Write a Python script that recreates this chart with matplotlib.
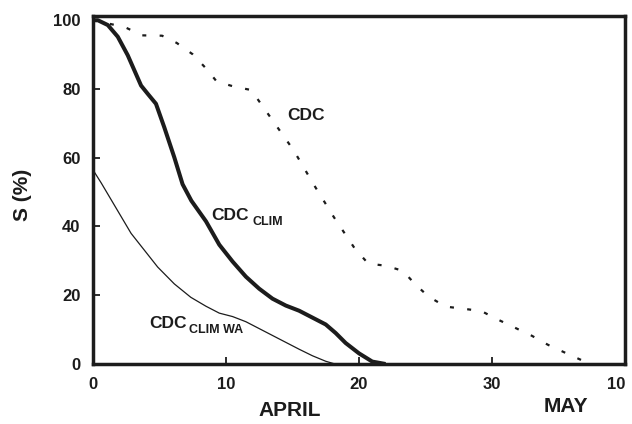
import matplotlib
matplotlib.use("Agg")
import matplotlib.pyplot as plt

plt.rcParams['font.family'] = ['Liberation Sans', 'DejaVu Sans']
plt.rcParams['font.weight'] = 'bold'

# days since 1 April, S in %
cdc_days = [0, 2.4, 3.7, 5.2, 6.3, 7.5, 8.5, 9.3, 10.6, 11.9, 12.7, 13.5, 15.1,
            16.6, 18.1, 19.7, 20.7, 22.0, 23.3, 24.2, 25.2, 26.5, 27.8, 29.2,
            30.4, 31.7, 33.0, 34.2, 35.6, 36.8, 37.2]
cdc_s = [100, 98, 95.6, 95.5, 93.4, 90.1, 86, 82.2, 80.7, 79.7, 75.3, 70.9, 62.1,
         52.2, 42.8, 33.5, 29.2, 28.6, 27.1, 23.3, 19.7, 16.7, 16.1, 15.4,
         13, 10.6, 8.2, 5.6, 3.1, 1.0, 0]

clim_days = [0, 0.37, 1.12, 1.87, 2.62, 3.12, 3.62, 4.12, 4.74, 5.37, 6.12, 6.74,
             7.4, 8.5, 9.5, 10.5, 11.5, 12.5, 13.5, 14.5, 15.5, 16.5, 17.5,
             18.25, 19, 20, 21, 22]
clim_s = [100, 100, 98.6, 95.2, 89.8, 85.4, 81, 78.6, 75.7, 68.8, 60.1, 52.3,
          47.5, 41.5, 34.7, 29.8, 25.4, 21.9, 19, 17, 15.5, 13.5, 11.5,
          9, 6.1, 3.1, 0.7, 0]

wa_days = [0, 0.62, 1.37, 2.12, 2.87, 3.87, 4.87, 6.12, 7.36, 8.5, 9.5, 10.5,
           11.5, 12.5, 13.5, 14.5, 15.5, 16.5, 17.5, 18.2]
wa_s = [56.5, 52.7, 47.8, 42.9, 38, 33.1, 28.2, 23.3, 19.4, 16.8, 14.8, 13.8,
        12.3, 10.3, 8.3, 6.3, 4.3, 2.4, 0.8, 0]

xticks = [0, 10, 20, 30, 40]
xticklabels = ['0', '10', '20', '30', '10']
yticks = [0, 20, 40, 60, 80, 100]

fig = plt.figure(figsize=(6.32, 4.24), dpi=100)
ax = fig.add_axes([0.147, 0.1415, 0.842, 0.8205])

ink = '#1c1c1c'
ax.plot(cdc_days, cdc_s, color=ink, lw=1.6, linestyle=(0, (1.8, 6)))
ax.plot(clim_days, clim_s, color=ink, lw=2.9, solid_capstyle='butt', solid_joinstyle='round')
ax.plot(wa_days, wa_s, color=ink, lw=0.9)

ax.set_xlim(0, 40)
ax.set_ylim(0, 101.2)
ax.set_xticks(xticks)
ax.set_xticklabels(xticklabels)
ax.set_yticks(yticks)
ax.tick_params(direction='in', length=5, width=1.3, colors=ink, labelsize=12, pad=9)
ax.get_xticklabels()[-1].set_horizontalalignment('right')
for s in ax.spines.values():
    s.set_linewidth(2.5)
    s.set_color(ink)

# curve labels
ax.text(14.6, 70.9, 'CDC', fontsize=12.5, fontweight='bold', color=ink, va='baseline')
ax.text(8.9, 41.9, 'CDC', fontsize=12.5, fontweight='bold', color=ink, va='baseline')
ax.text(12.0, 40.4, 'CLIM', fontsize=9, fontweight='bold', color=ink, va='baseline')
ax.text(4.26, 10.5, 'CDC', fontsize=12.5, fontweight='bold', color=ink, va='baseline')
ax.text(7.26, 9.0, 'CLIM WA', fontsize=9, fontweight='bold', color=ink, va='baseline')

fig.text(0.035, 0.54, 'S (%)', rotation=90, fontsize=15, fontweight='bold',
         color=ink, ha='center', va='center')
fig.text(0.459, 0.033, 'APRIL', fontsize=15, fontweight='bold', color=ink,
         ha='center', va='center')
fig.text(0.896, 0.042, 'MAY', fontsize=15, fontweight='bold', color=ink,
         ha='center', va='center')

fig.savefig('out.png', dpi=100)
